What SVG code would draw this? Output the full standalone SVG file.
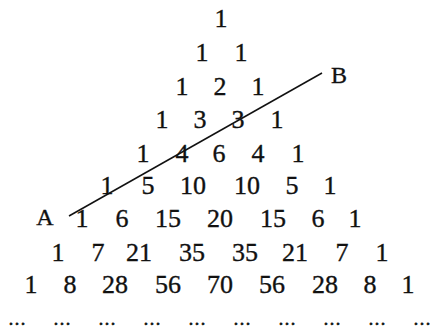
<svg xmlns="http://www.w3.org/2000/svg" width="433" height="329" viewBox="0 0 433 329">
<style>
text{font-family:"Liberation Serif","Times New Roman",serif;font-size:26px;fill:#111;stroke:#111;stroke-width:0.35;text-anchor:middle}
.lbl{font-size:24px}
.dots{font-size:18px;stroke-width:0.6}
line{stroke:#111;stroke-width:1.5}
</style>
<rect width="433" height="329" fill="#fff"/>
<g id="row0"><text x="221" y="27">1</text></g>
<g id="row1"><text x="202" y="61">1</text><text x="241" y="61">1</text></g>
<g id="row2"><text x="182" y="95">1</text><text x="220" y="95">2</text><text x="258" y="95">1</text></g>
<g id="row3"><text x="162" y="128">1</text><text x="200" y="128">3</text><text x="238" y="128">3</text><text x="277" y="128">1</text></g>
<g id="row4"><text x="143" y="162">1</text><text x="182" y="162">4</text><text x="219" y="162">6</text><text x="258" y="162">4</text><text x="298" y="162">1</text></g>
<g id="row5"><text x="107" y="194">1</text><text x="148" y="194">5</text><text x="193" y="194">10</text><text x="247" y="194">10</text><text x="292" y="194">5</text><text x="330" y="194">1</text></g>
<g id="row6"><text x="82" y="227">1</text><text x="122" y="227">6</text><text x="168" y="227">15</text><text x="220" y="227">20</text><text x="273" y="227">15</text><text x="318" y="227">6</text><text x="355" y="227">1</text></g>
<g id="row7"><text x="58" y="261">1</text><text x="98" y="261">7</text><text x="139" y="261">21</text><text x="192" y="261">35</text><text x="245" y="261">35</text><text x="295" y="261">21</text><text x="342" y="261">7</text><text x="382" y="261">1</text></g>
<g id="row8"><text x="31" y="293">1</text><text x="70" y="293">8</text><text x="115" y="293">28</text><text x="168" y="293">56</text><text x="220" y="293">70</text><text x="272" y="293">56</text><text x="325" y="293">28</text><text x="370" y="293">8</text><text x="408" y="293">1</text></g>
<g id="dots"><text class="dots" x="17" y="325">…</text><text class="dots" x="62" y="325">…</text><text class="dots" x="107" y="325">…</text><text class="dots" x="152" y="325">…</text><text class="dots" x="197" y="325">…</text><text class="dots" x="242" y="325">…</text><text class="dots" x="287" y="325">…</text><text class="dots" x="332" y="325">…</text><text class="dots" x="377" y="325">…</text><text class="dots" x="422" y="325">…</text></g>
<g id="connectors"><line x1="69" y1="216" x2="322" y2="73"/></g>
<g id="labelA"><text class="lbl" x="45" y="225">A</text></g>
<g id="labelB"><text class="lbl" x="339" y="83">B</text></g>
</svg>
